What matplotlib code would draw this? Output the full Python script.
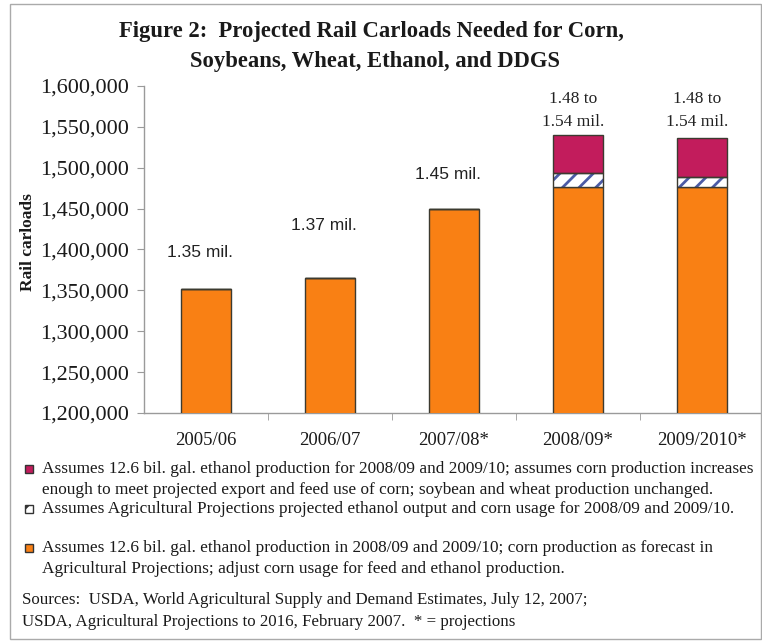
import matplotlib
matplotlib.use("Agg")
import matplotlib.pyplot as plt
import matplotlib.patches as mpatches
from matplotlib.ticker import FuncFormatter

# ── data ───────────────────────────────────────────────────────────────────
years = ["2005/06", "2006/07", "2007/08*", "2008/09*", "2009/2010*"]
base_carloads = [1352000, 1365000, 1450000, 1476000, 1477000]   # orange
proj_extra = [0, 0, 0, 17000, 12000]                              # hatched
high_extra = [0, 0, 0, 46500, 47000]                              # magenta
bar_labels = ["1.35 mil.", "1.37 mil.", "1.45 mil.", "1.48 to\n1.54 mil.", "1.48 to\n1.54 mil."]
label_y = [1396000, 1429000, 1492000, 1570000, 1570000]
yticks = list(range(1200000, 1600001, 50000))

legend_lines = [
    ("Assumes 12.6 bil. gal. ethanol production for 2008/09 and 2009/10; assumes corn production increases",
     "enough to meet projected export and feed use of corn; soybean and wheat production unchanged."),
    ("Assumes Agricultural Projections projected ethanol output and corn usage for 2008/09 and 2009/10.", None),
    ("Assumes 12.6 bil. gal. ethanol production in 2008/09 and 2009/10; corn production as forecast in",
     "Agricultural Projections; adjust corn usage for feed and ethanol production."),
]
sources = ["Sources:  USDA, World Agricultural Supply and Demand Estimates, July 12, 2007;",
           "USDA, Agricultural Projections to 2016, February 2007.  * = projections"]

# ── style ──────────────────────────────────────────────────────────────────
c_orange = "#F98014"
c_magenta = "#C21C5C"
c_hatch = "#4B5BA6"
c_edge = "#3c3a30"
c_axis = "#9a9a9a"
serif = "Liberation Serif"
sans = "Liberation Sans"
plt.rcParams["hatch.linewidth"] = 2.0

W, H = 762, 642
fig = plt.figure(figsize=(W / 100, H / 100), dpi=100, facecolor="white")
ax = fig.add_axes([144 / W, 1 - 413 / H, 620 / W, (413 - 86) / H])

x = range(len(years))
bw = 0.40
ax.bar(x, base_carloads, width=bw, color=c_orange, edgecolor=c_edge, linewidth=1.0, zorder=3)
tops = [b + p for b, p in zip(base_carloads, proj_extra)]
ax.bar(x, proj_extra, width=bw, bottom=base_carloads, color="white",
       edgecolor=c_hatch, hatch="//", linewidth=0, zorder=3)
ax.bar(x, proj_extra, width=bw, bottom=base_carloads, fill=False,
       edgecolor=c_edge, linewidth=1.0, zorder=4)
ax.bar(x, high_extra, width=bw, bottom=tops, color=c_magenta,
       edgecolor=c_edge, linewidth=1.0, zorder=3)

for i, (txt, ly) in enumerate(zip(bar_labels, label_y)):
    if "\n" in txt:
        ax.text(i - 0.04, ly, txt, ha="center", va="center", fontsize=12.5,
                family=serif, linespacing=1.55, color="#222222")
    else:
        ax.text(i - 0.05, ly, txt, ha="center", va="center", fontsize=12.5,
                family=sans, color="#222222")

ax.set_xlim(-0.5, len(years) - 0.5)
ax.set_ylim(1200000, 1600000)
ax.set_yticks(yticks)
ax.yaxis.set_major_formatter(FuncFormatter(lambda v, p: f"{int(v):,}"))
ax.set_xticks(list(x))
ax.set_xticklabels(years)
ax.set_xticks([i + 0.5 for i in range(len(years) - 1)], minor=True)
ax.tick_params(axis="x", which="major", length=0, pad=14, labelsize=13.5)
ax.tick_params(axis="x", which="minor", length=5, color=c_axis, direction="out")
ax.tick_params(axis="y", length=5, color=c_axis, labelsize=16, pad=6)
for lab in ax.get_xticklabels() + ax.get_yticklabels():
    lab.set_family(serif)
    lab.set_color("#1a1a1a")
for s in ("top", "right"):
    ax.spines[s].set_visible(False)
for s in ("left", "bottom"):
    ax.spines[s].set_color(c_axis)
    ax.spines[s].set_linewidth(1.0)

fig.text(28 / W, 1 - 242 / H, "Rail carloads", rotation=90, ha="center", va="center",
         family=serif, fontweight="bold", fontsize=12.5, color="#1a1a1a")

# title
fig.text(371 / W, 1 - 31 / H, "Figure 2:  Projected Rail Carloads Needed for Corn,",
         ha="center", va="center", family=serif, fontweight="bold", fontsize=16.3, color="#1a1a1a")
fig.text(375 / W, 1 - 61 / H, "Soybeans, Wheat, Ethanol, and DDGS",
         ha="center", va="center", family=serif, fontweight="bold", fontsize=16.3, color="#1a1a1a")

# legend-like notes
note_fs = 12.4
rows_y = [(469, 490), (509, None), (548, 569)]
swatches = [
    dict(facecolor=c_magenta, hatch=None),
    dict(facecolor="white", hatch="//"),
    dict(facecolor=c_orange, hatch=None),
]
for (l1, l2), (y1, y2), sw in zip(legend_lines, rows_y, swatches):
    sq = mpatches.Rectangle((25 / W, 1 - (y1 + 4) / H), 8 / W, 8 / H, transform=fig.transFigure,
                            facecolor=sw["facecolor"], edgecolor="#333333", linewidth=1.0,
                            hatch=sw["hatch"])
    fig.add_artist(sq)
    fig.text(42 / W, 1 - y1 / H, l1, ha="left", va="center", family=serif,
             fontsize=note_fs, color="#1a1a1a")
    if l2:
        fig.text(42 / W, 1 - y2 / H, l2, ha="left", va="center", family=serif,
                 fontsize=note_fs, color="#1a1a1a")

for s, yy in zip(sources, (600, 622)):
    fig.text(22 / W, 1 - yy / H, s, ha="left", va="center", family=serif,
             fontsize=12.2, color="#1a1a1a")

# outer frame
fig.add_artist(mpatches.Rectangle((10 / W, 1 - 639 / H), 751 / W, 635 / H,
                                  transform=fig.transFigure, fill=False,
                                  edgecolor="#aaaaaa", linewidth=1.0))

fig.savefig("out.png", dpi=100, facecolor="white")
